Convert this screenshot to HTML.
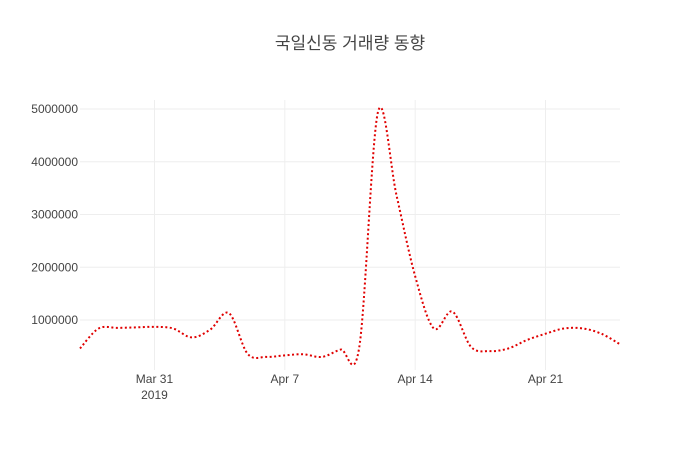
<!DOCTYPE html>
<html><head><meta charset="utf-8">
<style>
body{margin:0;background:#fff;}
svg text{font-family:"Liberation Sans","Noto Sans CJK KR",sans-serif;fill:#444;}
</style></head>
<body>
<svg id="chart" width="700" height="450" xmlns="http://www.w3.org/2000/svg">
<text x="350" y="49" text-anchor="middle" font-size="17">국일신동 거래량 동향</text>
<g id="grid"></g>
<g id="axes"></g>
<path id="line" fill="none" stroke="#e00000" stroke-width="2" stroke-dasharray="2,2.5"/>
</svg>
<script>
const startDate = "2019-03-27";
const volumes = [460000,840000,850000,860000,870000,840000,670000,820000,1130000,360000,300000,330000,350000,300000,440000,490000,4940000,3360000,1830000,840000,1160000,490000,410000,460000,620000,740000,840000,840000,740000,540000];
const yTicks = [1000000,2000000,3000000,4000000,5000000];
const xTickDays = [4,11,18,25];
const xTickLabels = ["Mar 31","Apr 7","Apr 14","Apr 21"];

const X0=80,X1=620,Y0=372.75,PPM=52.75;
const dayW=(X1-X0)/(volumes.length-1);
function xs(d){return X0+d*dayW;}
function ys(v){return Y0-v/1e6*PPM;}
const NS="http://www.w3.org/2000/svg";
const grid=document.getElementById('grid'),axes=document.getElementById('axes');
function mk(tag,attrs,parent){const e=document.createElementNS(NS,tag);for(const k in attrs)e.setAttribute(k,attrs[k]);parent.appendChild(e);return e;}
yTicks.forEach(v=>{
  const l=mk('line',{x1:X0,x2:X1,y1:ys(v),y2:ys(v),stroke:'#eee','stroke-width':1},grid);
  
  
  const t=mk('text',{x:X0-2,y:ys(v)+4,'text-anchor':'end','font-size':12},axes);
  t.textContent=v;
  
  
});
xTickDays.forEach((d,i)=>{
  const l=mk('line',{x1:xs(d),x2:xs(d),y1:100,y2:370,stroke:'#eee','stroke-width':1},grid);
  
  
  const t=mk('text',{x:xs(d),y:383,'text-anchor':'middle','font-size':12},axes);
  t.textContent=xTickLabels[i];
  
  
});
const yr=mk('text',{x:xs(xTickDays[0]),y:399,'text-anchor':'middle','font-size':12},axes);
yr.textContent="2019";


const pts=volumes.map((v,i)=>[xs(i),ys(v)]);
let d="M"+pts[0][0]+","+pts[0][1];
for(let i=0;i<pts.length-1;i++){
  const p0=pts[Math.max(0,i-1)],p1=pts[i],p2=pts[i+1],p3=pts[Math.min(pts.length-1,i+2)];
  const k=1/6;
  d+=" C"+(p1[0]+(p2[0]-p0[0])*k)+","+(p1[1]+(p2[1]-p0[1])*k)+" "+(p2[0]-(p3[0]-p1[0])*k)+","+(p2[1]-(p3[1]-p1[1])*k)+" "+p2[0]+","+p2[1];
}
document.getElementById('line').setAttribute('d',d);
</script>
</body></html>
